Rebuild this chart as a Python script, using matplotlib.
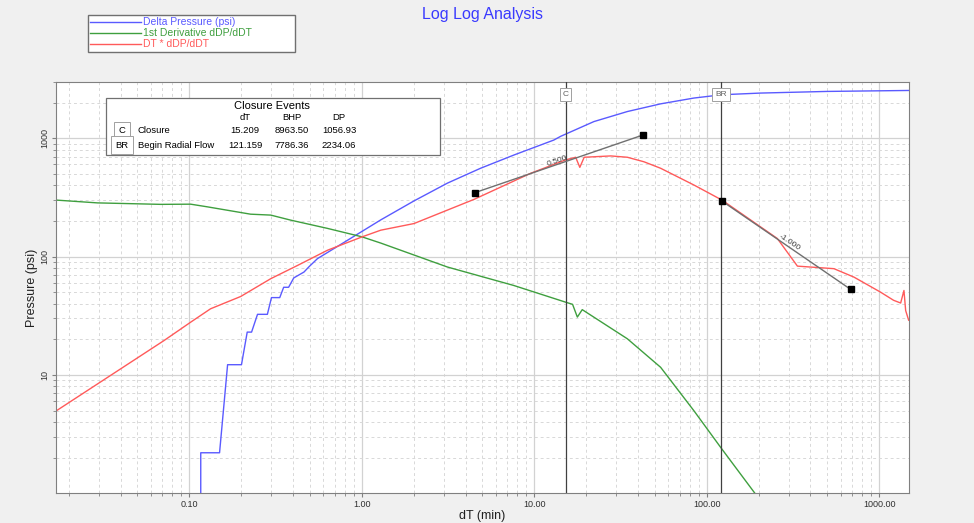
import numpy as np
import matplotlib
matplotlib.use('Agg')
import matplotlib.pyplot as plt
from matplotlib.patches import Rectangle
from matplotlib.ticker import LogLocator, NullFormatter, FixedLocator, FuncFormatter

# Delta Pressure (psi)
dp_t = [0.1167, 0.1167, 0.150, 0.167, 0.201, 0.217, 0.230, 0.249, 0.284, 0.300, 0.335, 0.353,
        0.377, 0.404, 0.463, 0.495, 0.554, 0.826, 1.29, 2.01, 3.14, 4.89, 7.64, 13.0, 14.25,
        22.2, 34.7, 54.1, 84.4, 122.7, 205.6, 500.0, 1490.0]
dp_p = [0.9, 2.2, 2.2, 12.2, 12.2, 23, 23, 32.5, 32.5, 45, 45, 55,
        55, 66, 74, 82, 96, 137, 204, 295, 417, 557, 721, 964, 1037,
        1381, 1679, 1950, 2183, 2328, 2405, 2483, 2530]

# 1st Derivative dDP/dDT
der_t = [0.0169, 0.0294, 0.0684, 0.102, 0.1275, 0.227, 0.297, 0.388, 0.633, 1.0, 1.29, 3.14,
         7.61, 15.6, 16.7, 17.8, 19.0, 34.7, 54.1, 84.4, 122.7, 190.5, 250.0]
der_p = [300, 284, 276, 277, 263, 228, 224, 203, 173, 147, 130, 81.6,
         57, 40.7, 39.5, 30.8, 35.6, 20.2, 11.6, 4.98, 2.36, 1.0, 0.59]

# DT * dDP/dDT
sup_t = [0.01706, 0.0714, 0.102, 0.133, 0.199, 0.297, 0.424, 0.633, 1.01, 1.29, 2.01, 4.48,
         9.54, 15.2, 17.4, 18.4, 19.5, 27.8, 34.7, 43.3, 54.1, 84.4, 122.7, 257.0, 336.0,
         547.0, 715.0, 1020.0, 1213.0, 1333.0, 1393.0, 1425.0, 1483.0]
sup_p = [5.0, 19.5, 27.9, 36.2, 46, 65, 84, 113, 147, 167, 190, 304,
         505, 655, 690, 567, 690, 708, 690, 632, 557, 402, 300, 142, 83,
         79, 67, 50, 42.7, 40.5, 51.7, 35, 29]

# slope lines
s1_t = [4.52, 42.6]
s1_p = [346, 1062]
s1_label = '0.500'
s2_t = [122.0, 684.0]
s2_p = [296, 52.8]
s2_label = '-1.000'

# closure events
ev_code = ['C', 'BR']
ev_name = ['Closure', 'Begin Radial Flow']
ev_dt = [15.209, 121.159]
ev_bhp = [8963.50, 7786.36]
ev_dp = [1056.93, 2234.06]

x_ticks = [0.1, 1, 10, 100, 1000]
y_ticks = [10, 100, 1000]

W, H = 974, 523
fx = lambda px: px / W
fy = lambda py: 1 - py / H

plt.rcParams['font.family'] = ['Liberation Sans', 'DejaVu Sans']

fig = plt.figure(figsize=(W / 100, H / 100), dpi=100, facecolor='#f0f0f0')
ax = fig.add_axes([fx(56), fy(493.3), fx(909) - fx(56), fy(81.7) - fy(493.3)])
ax.set_xscale('log')
ax.set_yscale('log')
ax.set_xlim(0.0169, 1490)
ax.set_ylim(1.0, 3000)

blue, green, red = '#5a5aff', '#3f9f3f', '#ff5a5a'
l1, = ax.plot(dp_t, dp_p, color=blue, lw=1.0, label='Delta Pressure (psi)')
l2, = ax.plot(der_t, der_p, color=green, lw=1.0, label='1st Derivative dDP/dDT')
l3, = ax.plot(sup_t, sup_p, color=red, lw=1.0, label='DT * dDP/dDT')

for st, sp in [(s1_t, s1_p), (s2_t, s2_p)]:
    ax.plot(st, sp, color='#707070', lw=1.0, zorder=4)
    ax.plot(st, sp, ls='none', marker='s', ms=4, color='black', zorder=5)

ax.text(13.6, 640, s1_label, fontsize=6, color='#404040', rotation=19,
        ha='center', va='center', rotation_mode='anchor')
ax.text(301, 131, s2_label, fontsize=6, color='#404040', rotation=-34,
        ha='center', va='center', rotation_mode='anchor')

for code, t in zip(ev_code, ev_dt):
    ax.axvline(t, color='#404040', lw=0.9, zorder=3)
    ax.text(t, 0.968, code, transform=ax.get_xaxis_transform(), fontsize=6, color='#606060',
            ha='center', va='center', zorder=6,
            bbox=dict(boxstyle='square,pad=0.35', fc='white', ec='#a0a0a0', lw=0.7))

# grid and ticks
ax.xaxis.set_minor_locator(LogLocator(base=10, subs=np.arange(2, 10), numticks=100))
ax.yaxis.set_minor_locator(LogLocator(base=10, subs=np.arange(2, 10), numticks=100))
ax.xaxis.set_minor_formatter(NullFormatter())
ax.yaxis.set_minor_formatter(NullFormatter())
ax.xaxis.set_major_locator(FixedLocator(x_ticks))
ax.yaxis.set_major_locator(FixedLocator(y_ticks))
ax.xaxis.set_major_formatter(FuncFormatter(lambda v, p: '%.2f' % v))
ax.yaxis.set_major_formatter(FuncFormatter(lambda v, p: '%d' % v))
ax.grid(True, which='major', color='#d2d2d2', lw=0.9, ls='-')
ax.grid(True, which='minor', color='#d8d8d8', lw=0.7, ls=(0, (3, 3)))
ax.set_axisbelow(True)
ax.tick_params(which='both', direction='out', color='#808080', labelsize=6.5,
               labelcolor='#303030', pad=1.5)
ax.tick_params(which='major', length=3)
ax.tick_params(which='minor', length=2)
for lab in ax.get_yticklabels():
    lab.set_rotation(90)
    lab.set_va('center')
for s in ax.spines.values():
    s.set_color('#808080')

ax.set_xlabel('dT (min)', fontsize=9, color='#202020', labelpad=1)
ax.set_ylabel('Pressure (psi)', fontsize=9, color='#202020', labelpad=2)

fig.text(fx(482), fy(15), 'Log Log Analysis', color='#3a3aff', fontsize=11.5, ha='center', va='center')

fig.legend(handles=[l1, l2, l3], loc='upper left',
           bbox_to_anchor=(fx(88), fy(53.3), fx(295) - fx(88), fy(15.3) - fy(53.3)),
           mode='expand', fontsize=7.5, labelcolor='linecolor', frameon=True, fancybox=False,
           edgecolor='#707070', facecolor='white', framealpha=1, borderpad=0.2,
           handlelength=4.9, handletextpad=0.15, labelspacing=0.1, borderaxespad=0)

# closure events table
fig.add_artist(Rectangle((fx(106), fy(155)), fx(440) - fx(106), fy(98.3) - fy(155),
                         transform=fig.transFigure, fc='white', ec='#707070', lw=0.9, zorder=7))
fig.text(fx(272), fy(105.7), 'Closure Events', fontsize=8, ha='center', va='center', zorder=8)
cols_x = [245, 292, 339]
for cx, h in zip(cols_x, ['dT', 'BHP', 'DP']):
    fig.text(fx(cx), fy(117.3), h, fontsize=6.8, ha='center', va='center', zorder=8)
rows_y = [130.7, 145]
for ry, code, name, t, b, d in zip(rows_y, ev_code, ev_name, ev_dt, ev_bhp, ev_dp):
    fig.text(fx(122), fy(ry), code, fontsize=6.8, ha='center', va='center', zorder=8,
             bbox=dict(boxstyle='square,pad=0.45', fc='white', ec='#a0a0a0', lw=0.7))
    fig.text(fx(138), fy(ry), name, fontsize=6.8, ha='left', va='center', zorder=8)
    for cx, v in zip(cols_x, ['%.3f' % t, '%.2f' % b, '%.2f' % d]):
        fig.text(fx(cx), fy(ry), v, fontsize=6.8, ha='center', va='center', zorder=8)

fig.savefig('out.png', dpi=100, facecolor=fig.get_facecolor())
